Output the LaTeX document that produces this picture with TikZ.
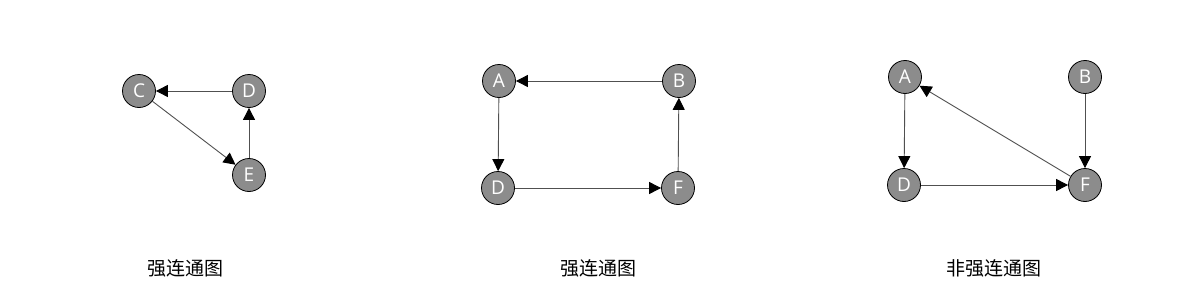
\documentclass[tikz,border=0pt]{standalone}
\usepackage{fontspec}
\setmainfont{Open Sans}
\newfontfamily\cjk{Noto Sans CJK SC}
\usetikzlibrary{arrows.meta}
\definecolor{nodegray}{HTML}{8C8C8C}
\definecolor{edgegray}{HTML}{505050}
\tikzset{
  vtx/.style={circle, draw=black, line width=0.8pt, fill=nodegray, minimum size=33pt, inner sep=0pt, text=white, font=\fontsize{19}{19}\selectfont},
  edge/.style={draw=edgegray, line width=0.9pt, -{Triangle[length=12pt,width=12pt,fill=black,color=black]}},
  captxt/.style={font=\cjk\fontsize{19}{19}\selectfont, text=black}
}
\begin{document}
\begin{tikzpicture}[x=1pt,y=-1pt]
\useasboundingbox (0,0) rectangle (1200,300);
% graph 1
\node[vtx] (C1) at (139,91) {C};
\node[vtx] (D1) at (249,91) {D};
\node[vtx] (E1) at (249,175) {E};
\draw[edge] (D1) -- (C1);
\draw[edge] (E1) -- (D1);
\draw[edge] (C1) -- (E1);
\node[captxt] (L1) at (185,268) {强连通图};
% graph 2
\node[vtx] (A2) at (499,81) {A};
\node[vtx] (B2) at (679,81) {B};
\node[vtx] (D2) at (498,188) {D};
\node[vtx] (F2) at (678,188) {F};
\draw[edge] (B2) -- (A2);
\draw[edge] (A2) -- (D2);
\draw[edge] (D2) -- (F2);
\draw[edge] (F2) -- (B2);
\node[captxt] (L2) at (598,268) {强连通图};
% graph 3
\node[vtx] (A3) at (905,77) {A};
\node[vtx] (B3) at (1085,77) {B};
\node[vtx] (D3) at (904,185) {D};
\node[vtx] (F3) at (1085,185) {F};
\draw[edge] (A3) -- (D3);
\draw[edge] (B3) -- (F3);
\draw[edge] (D3) -- (F3);
\draw[edge] (F3) -- (A3);
\node[captxt] (L3) at (994,268) {非强连通图};
\end{tikzpicture}
\end{document}
